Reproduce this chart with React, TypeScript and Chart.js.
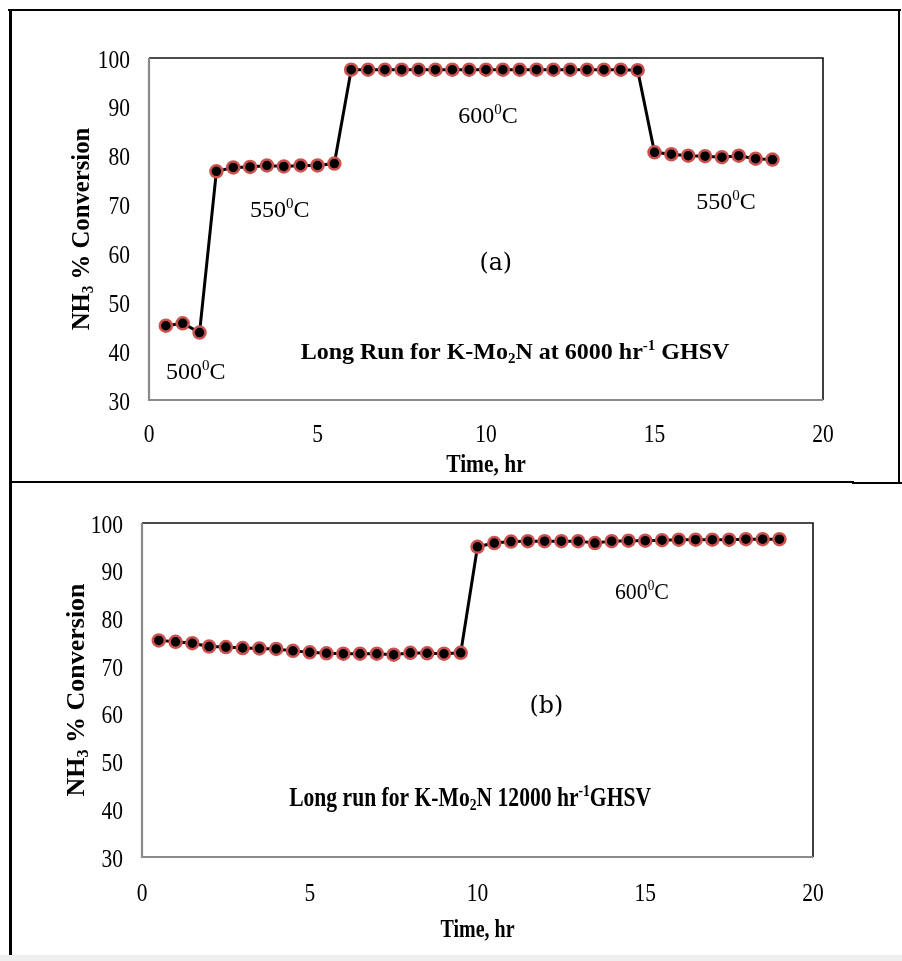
import React, { useEffect, useRef } from 'react';
import { Chart, registerables } from 'chart.js';

Chart.register(...registerables);

// ---- data ----
const topTimes = [0.5, 1, 1.5, 2, 2.5, 3, 3.5, 4, 4.5, 5, 5.5, 6, 6.5, 7, 7.5, 8, 8.5, 9, 9.5, 10, 10.5, 11, 11.5, 12, 12.5, 13, 13.5, 14, 14.5, 15, 15.5, 16, 16.5, 17, 17.5, 18, 18.5];
const topConversion = [45.2, 45.7, 43.8, 76.8, 77.6, 77.7, 78.0, 77.8, 78.0, 78.0, 78.4, 97.6, 97.6, 97.6, 97.6, 97.6, 97.6, 97.6, 97.6, 97.6, 97.6, 97.6, 97.6, 97.6, 97.6, 97.6, 97.6, 97.6, 97.5, 80.7, 80.3, 80.0, 79.9, 79.7, 80.0, 79.4, 79.2];

const bottomTimes = [0.5, 1, 1.5, 2, 2.5, 3, 3.5, 4, 4.5, 5, 5.5, 6, 6.5, 7, 7.5, 8, 8.5, 9, 9.5, 10, 10.5, 11, 11.5, 12, 12.5, 13, 13.5, 14, 14.5, 15, 15.5, 16, 16.5, 17, 17.5, 18, 18.5, 19];
const bottomConversion = [75.4, 75.1, 74.8, 74.1, 74.0, 73.8, 73.7, 73.6, 73.2, 72.9, 72.7, 72.6, 72.6, 72.6, 72.4, 72.8, 72.7, 72.6, 72.8, 95.0, 95.8, 96.1, 96.2, 96.2, 96.2, 96.2, 95.8, 96.2, 96.3, 96.3, 96.4, 96.5, 96.5, 96.5, 96.5, 96.6, 96.6, 96.6];

const xTickValues = [0, 5, 10, 15, 20];
const yTickValues = [30, 40, 50, 60, 70, 80, 90, 100];
const xAxisTitle = 'Time, hr';

type Seg = { t: string; k?: 'sub' | 'sup' };
const yAxisTitle: Seg[] = [{ t: 'NH' }, { t: '3', k: 'sub' }, { t: ' % Conversion' }];

type Note = { x: number; y: number; segs: Seg[]; size: number; bold?: boolean; sx?: number; family?: string };

const deg = (n: string): Seg[] => [{ t: n }, { t: '0', k: 'sup' }, { t: 'C' }];

const topNotes: Note[] = [
  { x: 1.39, y: 36.0, segs: deg('500'), size: 24 },
  { x: 3.88, y: 69.2, segs: deg('550'), size: 24 },
  { x: 10.06, y: 88.4, segs: deg('600'), size: 24 },
  { x: 17.12, y: 70.8, segs: deg('550'), size: 24 },
  { x: 10.29, y: 58.3, segs: [{ t: '(a)' }], size: 25, family: '"DejaVu Serif", serif', sx: 0.95 },
  {
    x: 10.86, y: 40.1, size: 24, bold: true, sx: 1.0,
    segs: [{ t: 'Long Run for K-Mo' }, { t: '2', k: 'sub' }, { t: 'N at 6000 hr' }, { t: '-1', k: 'sup' }, { t: ' GHSV' }],
  },
];

const bottomNotes: Note[] = [
  { x: 14.9, y: 85.8, segs: deg('600'), size: 23, sx: 0.95 },
  { x: 12.05, y: 61.9, segs: [{ t: '(b)' }], size: 25, family: '"DejaVu Serif", serif', sx: 0.95 },
  {
    x: 9.78, y: 42.6, size: 27, bold: true, sx: 0.8,
    segs: [{ t: 'Long run for K-Mo' }, { t: '2', k: 'sub' }, { t: 'N 12000 hr' }, { t: '-1', k: 'sup' }, { t: 'GHSV' }],
  },
];

const RED = '#cc5250';
const SERIF = '"Liberation Serif", "Times New Roman", serif';

function drawRich(
  ctx: CanvasRenderingContext2D,
  segs: Seg[],
  x: number,
  y: number,
  o: { size: number; bold?: boolean; sx?: number; align?: 'center' | 'right' | 'left'; rotate?: boolean; family?: string }
) {
  const fam = o.family || SERIF;
  const sx = o.sx ?? 1;
  const fontFor = (k?: string) => `${o.bold ? 'bold ' : ''}${k ? Math.round(o.size * 0.62) : o.size}px ${fam}`;
  ctx.save();
  ctx.translate(x, y);
  if (o.rotate) ctx.rotate(-Math.PI / 2);
  ctx.scale(sx, 1);
  let total = 0;
  for (const s of segs) {
    ctx.font = fontFor(s.k);
    total += ctx.measureText(s.t).width;
  }
  const align = o.align || 'center';
  let cx = align === 'center' ? -total / 2 : align === 'right' ? -total : 0;
  ctx.textAlign = 'left';
  ctx.textBaseline = 'alphabetic';
  ctx.fillStyle = '#000';
  const base = o.size * 0.34;
  for (const s of segs) {
    ctx.font = fontFor(s.k);
    const dy = s.k === 'sub' ? o.size * 0.16 : s.k === 'sup' ? -o.size * 0.36 : 0;
    ctx.fillText(s.t, cx, base + dy);
    cx += ctx.measureText(s.t).width;
  }
  ctx.restore();
}

type Deco = {
  notes: Note[];
  tickSx: number;
  xLabelGap: number;
  xTitleGap: number;
  xTitleSx: number;
  yTitleX: number;
  yTitleSx: number;
};

function decoPlugin(d: Deco) {
  return {
    id: 'deco',
    beforeDatasetsDraw(chart: any) {
      const { ctx, chartArea: a } = chart;
      ctx.save();
      ctx.strokeStyle = '#111';
      ctx.lineWidth = 1.6;
      ctx.beginPath();
      ctx.moveTo(a.left, a.top);
      ctx.lineTo(a.right, a.top);
      ctx.lineTo(a.right, a.bottom);
      ctx.stroke();
      ctx.strokeStyle = '#8a8a8a';
      ctx.lineWidth = 2.2;
      ctx.beginPath();
      ctx.moveTo(a.left, a.top);
      ctx.lineTo(a.left, a.bottom);
      ctx.lineTo(a.right, a.bottom);
      ctx.stroke();
      ctx.restore();
    },
    afterDraw(chart: any) {
      const { ctx, chartArea: a, scales } = chart;
      const xs = scales.x;
      const ys = scales.y;
      for (const v of yTickValues) {
        drawRich(ctx, [{ t: String(v) }], a.left - 19, ys.getPixelForValue(v) + 1, { size: 25, sx: d.tickSx, align: 'right' });
      }
      for (const v of xTickValues) {
        drawRich(ctx, [{ t: String(v) }], xs.getPixelForValue(v), a.bottom + d.xLabelGap, { size: 25, sx: d.tickSx });
      }
      drawRich(ctx, [{ t: xAxisTitle }], (a.left + a.right) / 2, a.bottom + d.xTitleGap, { size: 25, bold: true, sx: d.xTitleSx });
      drawRich(ctx, yAxisTitle, d.yTitleX, (a.top + a.bottom) / 2, { size: 26, bold: true, sx: d.yTitleSx, rotate: true });
      for (const n of d.notes) {
        drawRich(ctx, n.segs, xs.getPixelForValue(n.x), ys.getPixelForValue(n.y), {
          size: n.size,
          bold: n.bold,
          sx: n.sx,
          family: n.family,
        });
      }
    },
  };
}

function makeChart(
  canvas: HTMLCanvasElement,
  times: number[],
  values: number[],
  padding: { left: number; right: number; top: number; bottom: number },
  deco: Deco
) {
  return new Chart(canvas, {
    type: 'line',
    data: {
      datasets: [
        {
          data: times.map((t, i) => ({ x: t, y: values[i] })),
          borderColor: '#000',
          borderWidth: 3,
          pointRadius: 6,
          pointBorderWidth: 2.5,
          pointBackgroundColor: '#000',
          pointBorderColor: RED,
          tension: 0,
          fill: false,
          clip: 10,
        } as any,
      ],
    },
    options: {
      animation: false,
      responsive: false,
      devicePixelRatio: 1,
      events: [],
      layout: { padding },
      plugins: { legend: { display: false }, tooltip: { enabled: false }, title: { display: false } },
      scales: {
        x: { type: 'linear', min: 0, max: 20, display: false },
        y: { type: 'linear', min: 30, max: 100, display: false },
      },
    },
    plugins: [decoPlugin(deco)],
  });
}

export default function App() {
  const topRef = useRef<HTMLCanvasElement>(null);
  const botRef = useRef<HTMLCanvasElement>(null);

  useEffect(() => {
    document.body.style.margin = '0';
    const c1 = makeChart(topRef.current!, topTimes, topConversion, { left: 149, right: 79, top: 58, bottom: 82 }, {
      notes: topNotes,
      tickSx: 0.86,
      xLabelGap: 33,
      xTitleGap: 63,
      xTitleSx: 0.86,
      yTitleX: 80,
      yTitleSx: 0.95,
    });
    const c2 = makeChart(botRef.current!, bottomTimes, bottomConversion, { left: 142, right: 89, top: 41, bottom: 104 }, {
      notes: bottomNotes,
      tickSx: 0.86,
      xLabelGap: 35,
      xTitleGap: 71,
      xTitleSx: 0.8,
      yTitleX: 75,
      yTitleSx: 1.0,
    });
    return () => {
      c1.destroy();
      c2.destroy();
    };
  }, []);

  const line = (s: React.CSSProperties) => <div style={{ position: 'absolute', background: '#000', ...s }} />;

  return (
    <div style={{ position: 'absolute', left: 0, top: 0, width: 902, height: 961, background: '#fff', overflow: 'hidden' }}>
      <canvas ref={topRef} width={902} height={482} style={{ position: 'absolute', left: 0, top: 0, width: 902, height: 482 }} />
      <canvas ref={botRef} width={902} height={479} style={{ position: 'absolute', left: 0, top: 482, width: 902, height: 479 }} />
      {line({ left: 8, top: 9, width: 893, height: 2 })}
      {line({ left: 9, top: 9, width: 3, height: 946 })}
      {line({ left: 898, top: 9, width: 2, height: 474 })}
      {line({ left: 9, top: 481, width: 845, height: 2 })}
      {line({ left: 852, top: 482, width: 50, height: 2 })}
      <div style={{ position: 'absolute', left: 0, top: 955, width: 902, height: 6, background: '#efefef' }} />
    </div>
  );
}
